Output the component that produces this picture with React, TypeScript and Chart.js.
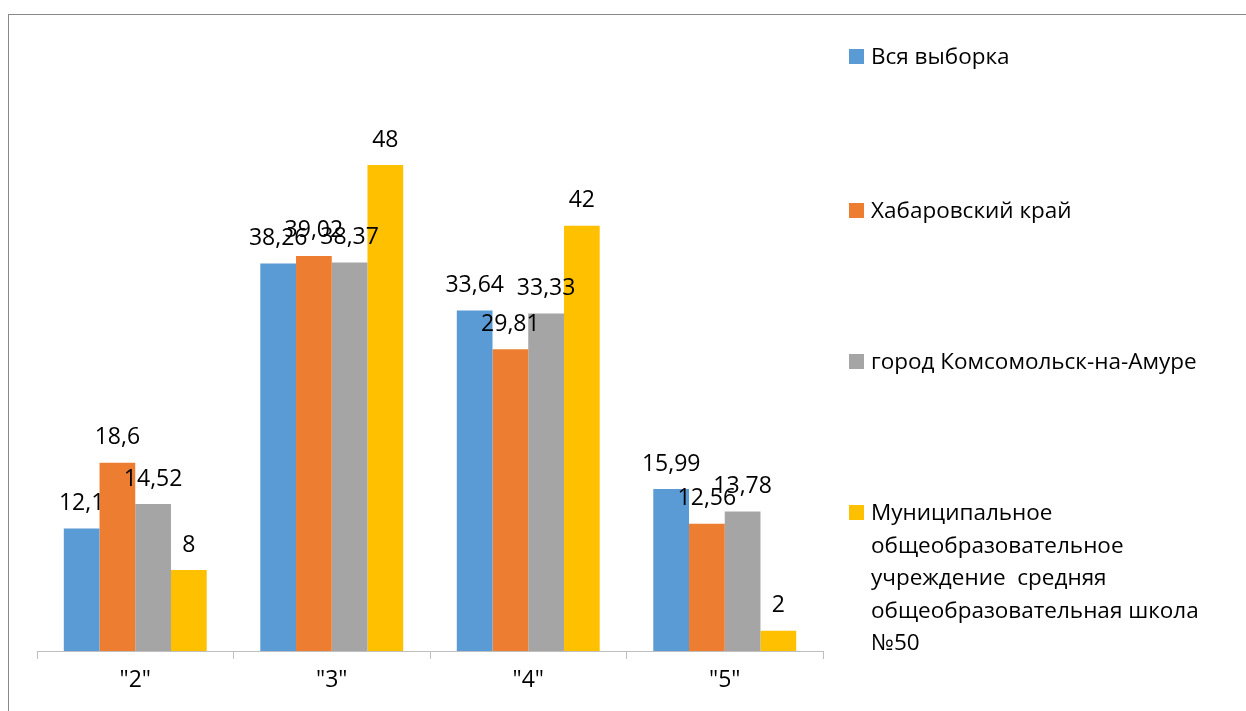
import React, { useEffect, useRef } from "react";
import { Chart, registerables } from "chart.js";

Chart.register(...registerables);

const categories = ['"2"', '"3"', '"4"', '"5"'];
const seriesNames = [
  "Вся выборка",
  "Хабаровский край",
  "город Комсомольск-на-Амуре",
  "Муниципальное общеобразовательное учреждение  средняя общеобразовательная школа №50",
];
const seriesColors = ["#5B9BD5", "#ED7D31", "#A5A5A5", "#FFC000"];
const allSample = [12.1, 38.26, 33.64, 15.99];
const khabarovsk = [18.6, 39.02, 29.81, 12.56];
const komsomolsk = [14.52, 38.37, 33.33, 13.78];
const school50 = [8, 48, 42, 2];
const seriesValues = [allSample, khabarovsk, komsomolsk, school50];
const yMin = 0;
const yMax = 60;

const FONT = "'Open Sans', 'Noto Sans', sans-serif";

const labelPlugin = {
  id: "barLabels",
  afterDatasetsDraw(chart: any) {
    const ctx = chart.ctx;
    ctx.save();
    ctx.font = `23px ${FONT}`;
    ctx.fillStyle = "#000";
    ctx.textAlign = "center";
    ctx.textBaseline = "middle";
    chart.data.datasets.forEach((ds: any, di: number) => {
      const meta = chart.getDatasetMeta(di);
      meta.data.forEach((el: any, i: number) => {
        const v = ds.data[i];
        ctx.fillText(String(v).replace(".", ","), el.x, el.y - 25);
      });
    });
    ctx.restore();
  },
};

export default function App() {
  const ref = useRef<HTMLCanvasElement>(null);
  useEffect(() => {
    if (!ref.current) return;
    const chart = new Chart(ref.current, {
      type: "bar",
      data: {
        labels: categories,
        datasets: seriesNames.map((name, i) => ({
          label: name,
          data: seriesValues[i],
          backgroundColor: seriesColors[i],
          borderWidth: 0,
          categoryPercentage: 4 / 5.5,
          barPercentage: 1,
        })),
      },
      options: {
        animation: false,
        responsive: false,
        maintainAspectRatio: false,
        layout: { padding: { left: 37, right: 423, top: 43.5, bottom: 0 } },
        plugins: {
          legend: { display: false },
          tooltip: { enabled: false },
        },
        scales: {
          x: {
            offset: true,
            grid: {
              offset: true,
              drawOnChartArea: false,
              drawTicks: true,
              tickLength: 8,
              color: "#bfbfbf",
            },
            border: { display: true, color: "#bfbfbf", width: 1 },
            ticks: {
              color: "#000",
              font: { family: FONT, size: 23 },
              padding: 8,
            },
            afterFit(scale: any) {
              scale.height = 60;
            },
          },
          y: {
            display: false,
            min: yMin,
            max: yMax,
          },
        },
      },
      plugins: [labelPlugin],
    });
    return () => chart.destroy();
  }, []);

  const legendTop = [40, 194, 345, 496];

  return (
    <div style={{ position: "absolute", left: 0, top: 0, width: 1246, height: 711, background: "#fff", overflow: "hidden" }}>
      <div
        style={{
          position: "absolute",
          left: 8,
          top: 14,
          width: 1300,
          height: 800,
          borderLeft: "1px solid #898989",
          borderTop: "1px solid #898989",
        }}
      />
      <canvas ref={ref} width={1246} height={711} style={{ position: "absolute", left: 0, top: 0 }} />
      {seriesNames.map((name, i) => (
        <div
          key={i}
          style={{
            position: "absolute",
            left: 849,
            top: legendTop[i],
            display: "flex",
            alignItems: "flex-start",
            fontFamily: FONT,
            fontSize: 22.5,
            lineHeight: "32.5px",
            color: "#000",
          }}
        >
          <div style={{ width: 15, height: 15, background: seriesColors[i], marginTop: 8.5, flex: "none" }} />
          <div style={{ marginLeft: 7, width: 360, whiteSpace: "pre-wrap" }}>{name}</div>
        </div>
      ))}
    </div>
  );
}
